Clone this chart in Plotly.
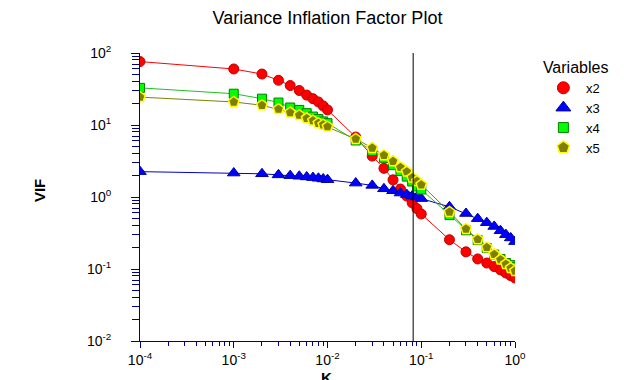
import plotly.graph_objects as go

# Ridge parameter K
k_values = [0.0001, 0.001, 0.002, 0.003, 0.004, 0.005, 0.006, 0.007, 0.008, 0.009, 0.01,
            0.02, 0.03, 0.04, 0.05, 0.06, 0.07, 0.08, 0.09, 0.1,
            0.2, 0.3, 0.4, 0.5, 0.6, 0.7, 0.8, 0.9, 1.0]

vif_x2 = [76, 60, 51, 41.8, 35.3, 30.1, 26, 23.2, 20.9, 18.4, 16.2,
          6.8, 3.7, 2.5, 1.73, 1.29, 1.03, 0.83, 0.69, 0.58,
          0.255, 0.173, 0.138, 0.121, 0.108, 0.097, 0.088, 0.081, 0.075]
vif_x3 = [2.25, 2.15, 2.1, 2.03, 1.98, 1.94, 1.9, 1.86, 1.82, 1.78, 1.74,
          1.56, 1.45, 1.3, 1.22, 1.135, 1.08, 1.03, 1.0, 0.95,
          0.73, 0.59, 0.5, 0.44, 0.39, 0.34, 0.3, 0.27, 0.24]
vif_x4 = [32.8, 27.2, 23.2, 20.5, 17.5, 16.2, 14.6, 13.1, 12.1, 11.2, 10.6,
          6.1, 4.36, 3.5, 2.77, 2.29, 1.92, 1.64, 1.4, 1.27,
          0.56, 0.345, 0.252, 0.196, 0.159, 0.138, 0.121, 0.113, 0.106]
vif_x5 = [24.4, 20.9, 18.8, 16.6, 14.9, 13.7, 12.4, 11.5, 10.6, 10.1, 9.5,
          6.4, 4.8, 3.8, 3.14, 2.58, 2.25, 1.86, 1.66, 1.48,
          0.62, 0.36, 0.258, 0.2, 0.16, 0.135, 0.117, 0.103, 0.094]

selected_k = 0.082

x_major = [1e-4, 1e-3, 1e-2, 1e-1, 1]
x_major_text = ["10<sup>-4</sup>", "10<sup>-3</sup>", "10<sup>-2</sup>", "10<sup>-1</sup>", "10<sup>0</sup>"]
y_major = [1e-2, 1e-1, 1, 10, 100]
y_major_text = ["10<sup>-2</sup>", "10<sup>-1</sup>", "10<sup>0</sup>", "10<sup>1</sup>", "10<sup>2</sup>"]

series = [
    ("x2", vif_x2, "#FF0000", "#FF0000", "circle", 10, "#C00000", 1, 12),
    ("x3", vif_x3, "#0000FF", "#0000C0", "triangle-up", 11, "#0000A0", 1, 13),
    ("x4", vif_x4, "#00FF00", "#20C020", "square", 9, "#008000", 1, 10),
    ("x5", vif_x5, "#808000", "#808000", "pentagon", 11, "#FFFF00", 1.5, 13),
]

fig = go.Figure()
for name, vals, fill, line_col, sym, size, outline, ow, lsize in series:
    fig.add_trace(go.Scatter(
        x=k_values, y=vals, name=name, mode="lines+markers", showlegend=False,
        line=dict(color=line_col, width=1),
        marker=dict(symbol=sym, size=size, color=fill, line=dict(color=outline, width=ow)),
    ))
for name, vals, fill, line_col, sym, size, outline, ow, lsize in series:
    fig.add_trace(go.Scatter(
        x=[None], y=[None], name=name, mode="markers", showlegend=True,
        marker=dict(symbol=sym, size=lsize, color=fill, line=dict(color=outline, width=ow)),
    ))

def minor_vals(lo, hi):
    out = []
    e = lo
    while e < hi:
        for m in range(2, 10):
            out.append(m * 10 ** e)
        e += 1
    return out

fig.add_shape(type="line", xref="x", yref="paper", x0=selected_k, x1=selected_k, y0=0, y1=1,
              line=dict(color="black", width=1))

# page has an 8px body margin: figure occupies (8,8)-(631,380)
font_family = "Arial, Liberation Sans, sans-serif"
fig.update_layout(
    width=623, height=372,
    margin=dict(l=132, r=116, t=45, b=35),
    paper_bgcolor="white", plot_bgcolor="white",
    font=dict(family=font_family, color="black", size=14),
    title=dict(text="Variance Inflation Factor Plot", x=(327.5 - 8) / 623, xref="container",
               xanchor="center", y=1 - (18 - 8) / 372, yanchor="middle",
               font=dict(size=18, color="black")),
    showlegend=True,
    legend=dict(x=1.069, xanchor="left", y=1.0 + 1 / 292, yanchor="top",
                title=dict(text="Variables", font=dict(size=16)),
                font=dict(size=13), itemwidth=35, tracegroupgap=0,
                bgcolor="rgba(0,0,0,0)"),
)
fig.update_xaxes(
    type="log", range=[-4, 0], showgrid=False, zeroline=False,
    showline=True, linecolor="#000080", linewidth=1, mirror=False,
    ticks="outside", ticklen=6, tickcolor="#000080",
    tickvals=x_major, ticktext=x_major_text, tickfont=dict(size=14),
    minor=dict(tickvals=minor_vals(-4, 0), ticks="outside", ticklen=4, tickcolor="#000080", showgrid=False),
)
fig.update_yaxes(
    type="log", range=[-2, 2], showgrid=False, zeroline=False,
    showline=True, linecolor="#000080", linewidth=1, mirror=False,
    ticks="outside", ticklen=8, tickcolor="#000080",
    tickvals=y_major, ticktext=y_major_text, tickfont=dict(size=14),
    ticklabelstandoff=17,
    minor=dict(tickvals=minor_vals(-2, 2), ticks="outside", ticklen=7, tickcolor="#000080", showgrid=False),
)
fig.add_annotation(text="<b>VIF</b>", xref="paper", yref="paper", x=(39 - 140) / 375, xanchor="center",
                   y=(345 - 193) / 292, yanchor="middle", textangle=-90,
                   showarrow=False, font=dict(size=15, color="black"))
fig.add_annotation(text="<b>K</b>", xref="paper", yref="paper", x=(326 - 140) / 375, xanchor="center",
                   y=-(371 - 345) / 292, yanchor="top",
                   showarrow=False, font=dict(size=15, color="black"))

fig.write_html("out.html")
